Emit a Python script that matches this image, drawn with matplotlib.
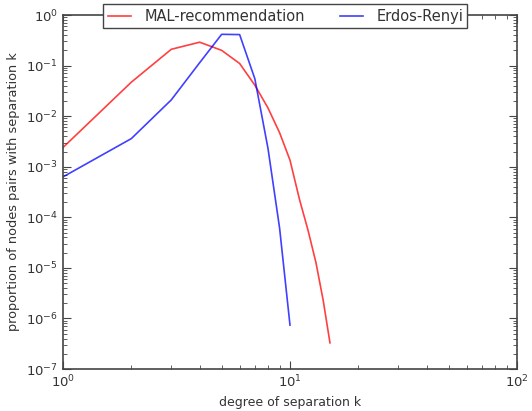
import matplotlib
matplotlib.use("Agg")
import matplotlib.pyplot as plt

# degree of separation k
k_mal = [1, 2, 3, 4, 5, 6, 7, 8, 9, 10, 11, 12, 13, 14, 15]
k_er = [1, 2, 3, 4, 5, 6, 7, 8, 9, 10]

# proportion of node pairs at each separation
p_mal = [2.4e-3, 4.7e-2, 0.21, 0.29, 0.2, 0.11, 4.1e-2, 1.45e-2, 4.7e-3,
         1.35e-3, 2.3e-4, 5.6e-5, 1.3e-5, 2.3e-6, 3.3e-7]
p_er = [6.3e-4, 3.6e-3, 2.1e-2, 0.114, 0.415, 0.41, 5.5e-2, 2.3e-3,
        6.1e-5, 7.4e-7]

fig = plt.figure(figsize=(5.32, 4.11), dpi=100)
ax = fig.add_axes([0.1184, 0.102, 0.8534, 0.8615])

ax.plot(k_mal, p_mal, color='red', alpha=0.75, lw=1.2, label='MAL-recommendation')
ax.plot(k_er, p_er, color='blue', alpha=0.75, lw=1.2, label='Erdos-Renyi')

ax.set_xscale('log')
ax.set_yscale('log')
ax.set_xlim(1, 100)
ax.set_ylim(1e-7, 1)

ax.set_xlabel('degree of separation k', fontsize=9, color='#333333')
ax.set_ylabel('proportion of nodes pairs with separation k', fontsize=9.3, color='#333333')

ax.tick_params(which='both', direction='in', top=True, right=True,
               labelsize=9.5, labelcolor='#333333', color='#444444')
ax.tick_params(which='major', length=6)
ax.tick_params(which='minor', length=3)
for s in ax.spines.values():
    s.set_color('#444444')
    s.set_linewidth(1.2)

leg = ax.legend(loc='upper center', bbox_to_anchor=(0.49, 1.03), ncol=2,
                fontsize=10.5, frameon=True, fancybox=False, borderaxespad=0,
                columnspacing=2.4, handlelength=1.6, handletextpad=0.9,
                borderpad=0.3)
leg.get_frame().set_edgecolor('#444444')
leg.get_frame().set_linewidth(1.0)
leg.get_frame().set_alpha(1)
for t in leg.get_texts():
    t.set_color('#333333')

fig.savefig('out.png', dpi=100)
